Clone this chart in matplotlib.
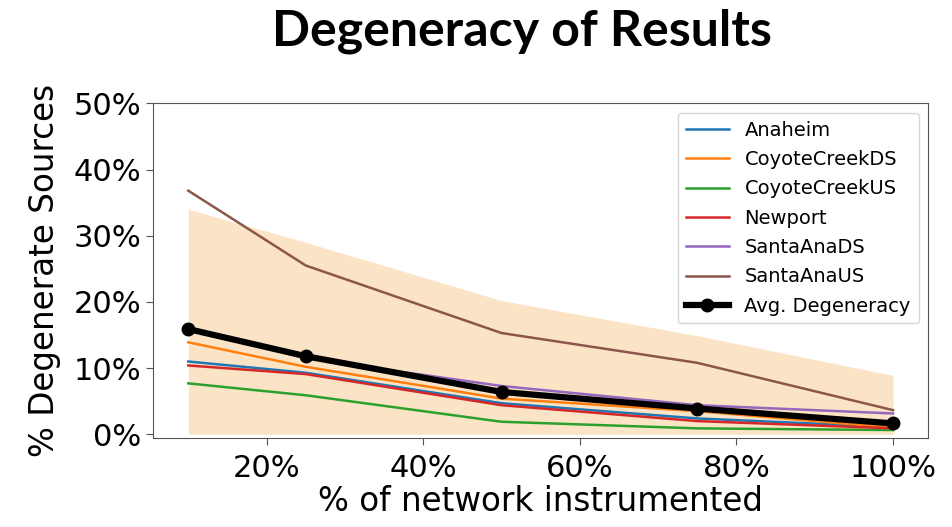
import numpy as np
import matplotlib
matplotlib.use("Agg")
import matplotlib.pyplot as plt
from matplotlib.ticker import FuncFormatter

# -----------------------------
# DATA (percent of sources that are degenerate)
# -----------------------------
pct_instrumented = [10, 25, 50, 75, 100]

anaheim = [11.0, 9.3, 4.7, 2.4, 1.1]
coyote_ds = [13.9, 10.2, 5.4, 3.5, 1.0]
coyote_us = [7.7, 5.9, 1.9, 0.9, 0.65]
newport = [10.4, 9.1, 4.4, 2.0, 0.9]
santa_ana_ds = [16.0, 11.5, 7.3, 4.4, 3.15]
santa_ana_us = [36.8, 25.5, 15.3, 10.8, 3.65]

avg_degeneracy = [15.9, 11.8, 6.4, 3.9, 1.65]
band_lower = [0, 0, 0, 0, 0]
band_upper = [34.0, 29.0, 20.2, 14.9, 8.9]

series = [
    ("Anaheim", anaheim, "C0"),
    ("CoyoteCreekDS", coyote_ds, "C1"),
    ("CoyoteCreekUS", coyote_us, "C2"),
    ("Newport", newport, "C3"),
    ("SantaAnaDS", santa_ana_ds, "C4"),
    ("SantaAnaUS", santa_ana_us, "C5"),
]

# -----------------------------
# PLOT
# -----------------------------
fig = plt.figure(figsize=(9.53, 5.27), dpi=100)
ax = fig.add_axes([0.1606, 0.1683, 0.8135, 0.6357])

ax.fill_between(pct_instrumented, band_lower, band_upper,
                color="#fbe4c6", linewidth=0)

for name, vals, col in series:
    ax.plot(pct_instrumented, vals, color=col, linewidth=1.8, label=name)

ax.plot(pct_instrumented, avg_degeneracy, color="black", linewidth=4.5,
        marker="o", markersize=9, label="Avg. Degeneracy")

ax.set_xlim(5.5, 104.5)
ax.set_ylim(-0.6, 50)
ax.set_xticks([20, 40, 60, 80, 100])
ax.set_yticks([0, 10, 20, 30, 40, 50])
pct = FuncFormatter(lambda v, _: f"{v:.0f}%")
ax.xaxis.set_major_formatter(pct)
ax.yaxis.set_major_formatter(pct)
ax.tick_params(labelsize=22, length=5, color="#555555")
ax.tick_params(axis="x", pad=6)
for s in ax.spines.values():
    s.set_color("#555555")

ax.set_xlabel("% of network instrumented", fontsize=23.5, labelpad=2)
ax.set_ylabel("% Degenerate Sources", fontsize=23.5, labelpad=9)

ax.legend(loc="upper right", fontsize=14, labelspacing=0.53,
          handlelength=2.2)

fig.text(0.548, 0.94, "Degeneracy of Results", ha="center", va="center",
         fontsize=36, fontweight="bold", family="Lato")

fig.savefig("out.png", dpi=100)
